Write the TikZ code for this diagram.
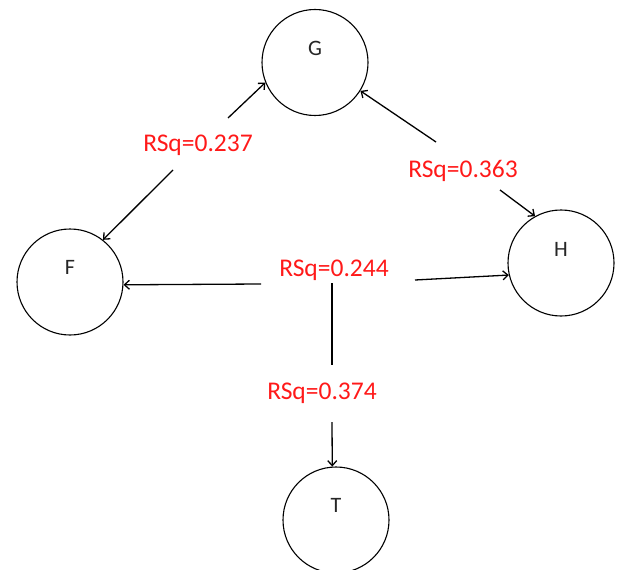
\documentclass[tikz,border=0pt]{standalone}
\usepackage{fontspec}
\setmainfont{Carlito}
\usetikzlibrary{arrows.meta}
\definecolor{rsqred}{RGB}{255,25,25}
\tikzset{
  var/.style={circle, draw, line width=1.1pt, minimum size=106pt, inner sep=0pt},
  varname/.style={font=\fontsize{22}{22}\selectfont, text=black!85},
  rsq/.style={font=\fontsize{25.5}{25.5}\selectfont, text=rsqred, inner sep=0pt},
  arr/.style={line width=1.3pt, -{Straight Barb[length=5pt,width=9pt,line width=1.3pt]}},
  plain/.style={line width=1.3pt}
}
\begin{document}
\begin{tikzpicture}[x=1pt,y=-1pt]
  \useasboundingbox (0,0) rectangle (617,569);

  % latent variables
  \node[var, label={[varname, yshift=14pt]center:G}] (G) at (315,62.5) {};
  \node[var, label={[varname, yshift=15pt]center:F}] (F) at (70,282) {};
  \node[var, label={[varname, yshift=14pt]center:H}] (H) at (561,263) {};
  \node[var, label={[varname, yshift=15pt]center:T}] (T) at (336,520) {};

  % R-squared labels
  \node[rsq] (r237) at (198,145) {RSq=0.237};
  \node[rsq] (r363) at (463,171) {RSq=0.363};
  \node[rsq] (r244) at (334,270) {RSq=0.244};
  \node[rsq] (r374) at (322,393) {RSq=0.374};

  % connector tails next to the labels
  \coordinate (a1) at (228,118);
  \coordinate (a2) at (173,170);
  \coordinate (b1) at (436,142);
  \coordinate (b2) at (500,190);
  \coordinate (c1) at (261,284);
  \coordinate (c2) at (415,280);
  \coordinate (c3) at (332,283);
  \coordinate (c4) at (332,365);
  \coordinate (d1) at (332,422);

  % paths
  \draw[arr] (a1) -- (G.202);
  \draw[arr] (a2) -- (F.52);
  \draw[arr] (b1) -- (G.-32);
  \draw[arr] (b2) -- (H.119);
  \draw[arr] (c1) -- (F.-3);
  \draw[arr] (c2) -- (H.193);
  \draw[plain] (c3) -- (c4);
  \draw[arr] (d1) -- (T.94);
\end{tikzpicture}
\end{document}
